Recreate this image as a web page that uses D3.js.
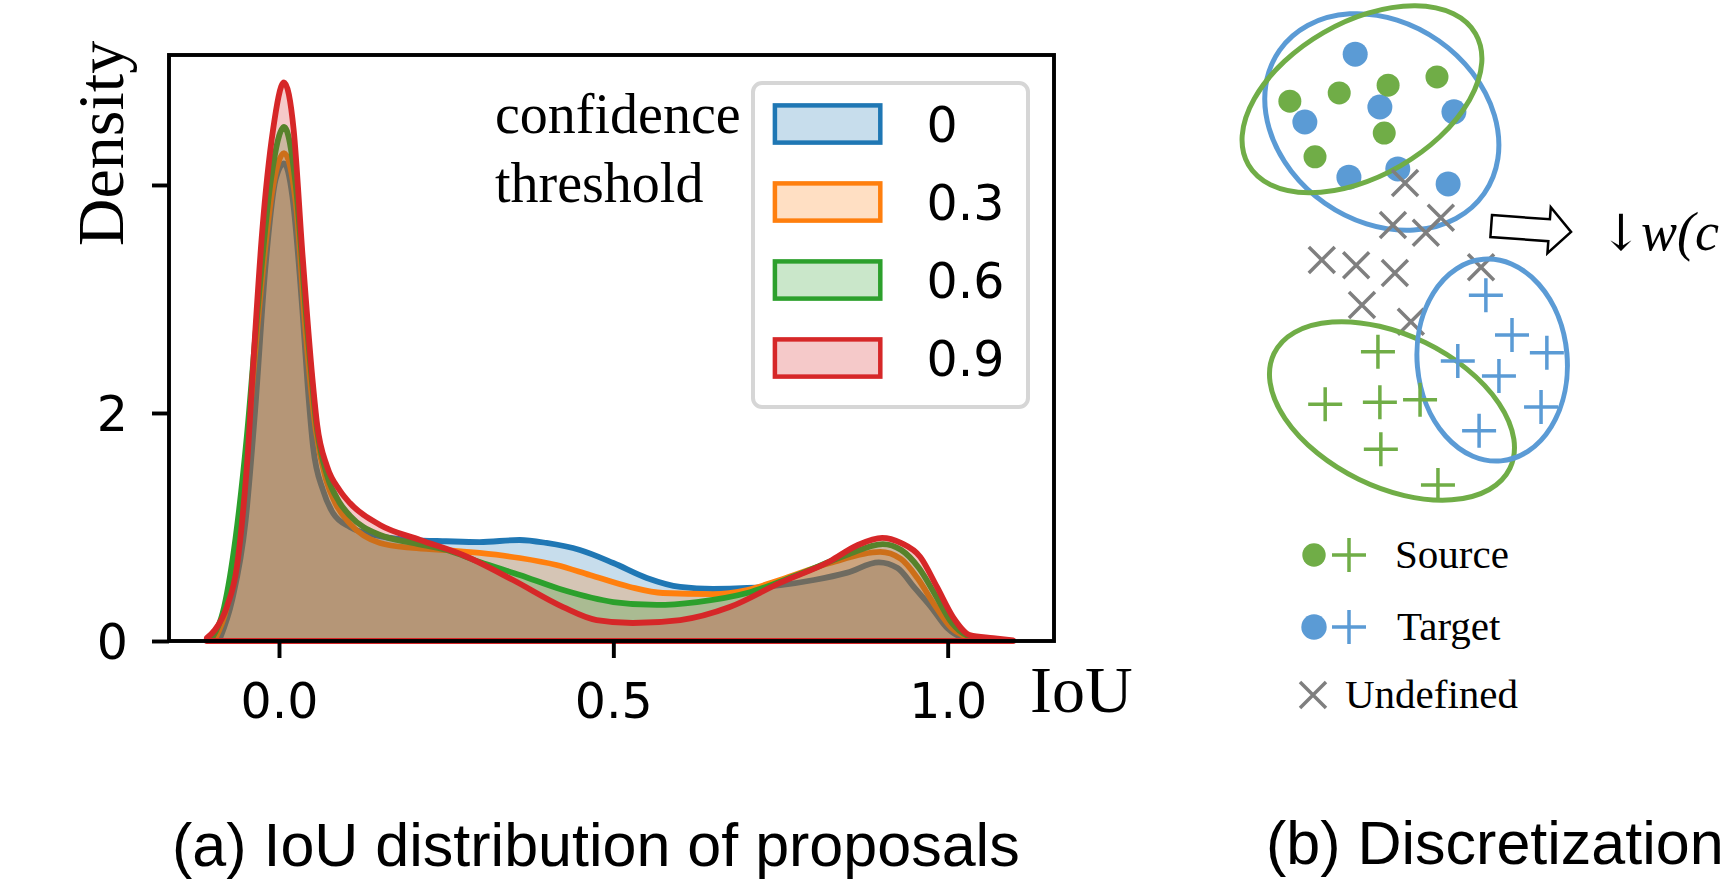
<!DOCTYPE html>
<html>
<head>
<meta charset="utf-8">
<script src="https://cdn.jsdelivr.net/npm/d3@7"></script>
<style>
  body { margin: 0; background: #fff; }
  svg { display: block; }
</style>
</head>
<body>
<div id="chart"></div>
<script>
// ---- panel (a): IoU density per confidence threshold ----
var thresholds = ['0', '0.3', '0.6', '0.9'];
var seriesColors = ['#1f77b4', '#ff7f0e', '#2ca02c', '#d62728'];

var iou0 = [-0.088, -0.07, -0.05, -0.036, -0.02, -0.005, 0.0075, 0.02, 0.035, 0.043, 0.051, 0.066, 0.081, 0.106,
            0.151, 0.2, 0.25, 0.3, 0.36, 0.4, 0.45, 0.5, 0.55, 0.6, 0.649, 0.7, 0.75, 0.8, 0.85, 0.897,
            0.925, 0.95, 0.975, 1.0, 1.02, 1.05];
var dens0 = [0.026, 0.36, 1.05, 2.0, 3.3, 4.05, 4.19, 3.9, 2.9, 2.23, 1.7, 1.32, 1.12, 1.0,
             0.92, 0.885, 0.875, 0.868, 0.886, 0.86, 0.798, 0.684, 0.553, 0.474, 0.456, 0.465, 0.49, 0.535, 0.6, 0.69,
             0.64, 0.47, 0.3, 0.11, 0.035, 0.005];

var iou03 = [-0.095, -0.078, -0.06, -0.045, -0.03, -0.01, 0.0075, 0.025, 0.04, 0.055, 0.07, 0.085, 0.106,
             0.151, 0.2, 0.251, 0.3, 0.36, 0.415, 0.465, 0.525, 0.574, 0.649, 0.7, 0.749, 0.824, 0.899,
             0.93, 0.955, 0.98, 1.005, 1.03, 1.06];
var dens03 = [0.026, 0.3, 0.95, 1.9, 2.9, 3.95, 4.28, 3.85, 2.7, 1.85, 1.42, 1.2, 1.03,
              0.86, 0.816, 0.798, 0.772, 0.728, 0.667, 0.579, 0.474, 0.421, 0.412, 0.447, 0.535, 0.684, 0.781,
              0.72, 0.55, 0.32, 0.12, 0.035, 0.005];

var iou06 = [-0.1, -0.082, -0.065, -0.048, -0.032, -0.012, 0.0075, 0.025, 0.042, 0.057, 0.072, 0.09, 0.106,
             0.151, 0.2, 0.251, 0.3, 0.36, 0.425, 0.5, 0.565, 0.625, 0.7, 0.775, 0.849, 0.903,
             0.93, 0.957, 0.982, 1.006, 1.03, 1.065];
var dens06 = [0.026, 0.3, 0.9, 1.8, 2.9, 4.05, 4.51, 4.0, 2.75, 1.85, 1.45, 1.22, 1.1,
              0.93, 0.86, 0.798, 0.693, 0.579, 0.447, 0.342, 0.316, 0.342, 0.421, 0.579, 0.754, 0.85,
              0.8, 0.64, 0.4, 0.16, 0.045, 0.005];

var iou09 = [-0.108, -0.096, -0.078, -0.063, -0.054, -0.046, -0.04, -0.025, -0.009, 0.0075, 0.022, 0.035, 0.05,
             0.057, 0.072, 0.091, 0.106, 0.151, 0.211, 0.275, 0.35, 0.425, 0.475, 0.529, 0.6, 0.674, 0.749,
             0.824, 0.865, 0.902, 0.93, 0.959, 0.984, 1.008, 1.033, 1.068, 1.098];
var dens09 = [0.026, 0.096, 0.3, 0.65, 1.12, 1.7, 2.29, 3.6, 4.48, 4.9, 4.48, 3.4, 2.3,
              1.9, 1.53, 1.32, 1.21, 1.018, 0.886, 0.754, 0.535, 0.298, 0.184, 0.158, 0.184, 0.298, 0.509,
              0.7, 0.84, 0.904, 0.86, 0.737, 0.474, 0.21, 0.053, 0.026, 0.005];

var xTicks = [0, 0.5, 1.0];
var xTickLabels = ['0.0', '0.5', '1.0'];
var yTicks = [0, 2, 4];
var yTickLabels = ['0', '2', ''];

// ---- panel (b): discretization sketch, in diagram units (0..100) ----
var targetDots = [[23.8, 11.2], [28.9, 22.1], [13.4, 25.2], [44.2, 23.1], [22.5, 36.6], [32.6, 34.9], [43.0, 38.0]];
var sourceDots = [[10.3, 20.9], [20.5, 19.2], [30.6, 17.6], [40.7, 15.9], [29.8, 27.5], [15.5, 32.4]];
var undefinedPts = [[34.1, 37.8], [31.6, 46.5], [41.5, 45.0], [38.4, 48.1], [16.9, 53.7],
                    [24.0, 54.8], [32.0, 56.4], [49.8, 55.2], [25.2, 63.0], [35.3, 66.5]];
var targetPlus = [[50.8, 61.0], [56.2, 69.2], [63.4, 72.9], [45.0, 74.6], [53.5, 77.7], [62.2, 84.1], [49.4, 89.0]];
var sourcePlus = [[28.5, 72.7], [17.6, 83.5], [28.9, 83.1], [37.2, 82.6], [29.1, 92.8], [40.9, 100.2]];
// cluster ellipses: [cx, cy, rx, ry, angle]
var targetUpper = [29.3, 25.2, 25.8, 20.5, 35];
var sourceUpper = [25.2, 20.5, 27.1, 15.9, -30];
var sourceLower = [31.4, 84.9, 27.1, 15.7, 26];
var targetLower = [52.1, 74.4, 15.5, 20.9, -5];
var arrowFrom = [51.9, 46.7], arrowTo = [68.4, 47.9];
var legendLabels = ['Source', 'Target', 'Undefined'];

var W = 1724, H = 886;
var BLUE = '#5b9bd5', GREEN = '#70ad47', GRAY = '#7f7f7f';

var svg = d3.select('#chart').append('svg')
    .attr('width', W).attr('height', H);
svg.append('rect').attr('width', W).attr('height', H).attr('fill', '#fff');

function drawKde() {
  let box = {left: 169, right: 1054, top: 55, bottom: 641};
  let xScale = d3.scaleLinear().domain([-0.1645, 1.159]).range([box.left, box.right]);
  let yScale = d3.scaleLinear().domain([0, 5.14]).range([box.bottom, box.top]);

  let series = [[iou0, dens0], [iou03, dens03], [iou06, dens06], [iou09, dens09]];
  let area = d3.area()
      .x(d => xScale(d[0]))
      .y0(yScale(0))
      .y1(d => yScale(d[1]))
      .curve(d3.curveMonotoneX);

  // each layer: translucent face + opaque edge, later layers cover earlier edges
  for (let i = 0; i < series.length; ++i) {
    let pts = series[i][0].map((x, j) => [x, series[i][1][j]]);
    svg.append('path')
      .datum(pts)
        .attr('d', area)
        .attr('fill', seriesColors[i])
        .attr('fill-opacity', 0.25)
        .attr('stroke', seriesColors[i])
        .attr('stroke-width', 5.8)
        .attr('stroke-linejoin', 'round');
  }

  let xaxis = d3.axisBottom(xScale)
      .tickValues(xTicks)
      .tickFormat((d, i) => xTickLabels[i])
      .tickSize(17);
  let yaxis = d3.axisLeft(yScale)
      .tickValues(yTicks)
      .tickFormat((d, i) => yTickLabels[i])
      .tickSize(17);

  let gx = svg.append('g')
      .attr('transform', 'translate(0,' + box.bottom + ')')
      .call(xaxis);
  gx.select('.domain').remove();
  gx.attr('font-family', 'DejaVu Sans').attr('font-size', 49);
  gx.selectAll('line').attr('stroke', '#000').attr('stroke-width', 3.9);
  gx.selectAll('text').attr('y', 77).attr('dy', 0).attr('fill', '#000');

  let gy = svg.append('g')
      .attr('transform', 'translate(' + box.left + ',0)')
      .call(yaxis);
  gy.select('.domain').remove();
  gy.attr('font-family', 'DejaVu Sans').attr('font-size', 49);
  gy.selectAll('line').attr('stroke', '#000').attr('stroke-width', 3.9);
  gy.selectAll('text').attr('x', -41).attr('dy', '0.36em').attr('fill', '#000');

  svg.append('rect')
      .attr('x', box.left).attr('y', box.top)
      .attr('width', box.right - box.left).attr('height', box.bottom - box.top)
      .attr('fill', 'none')
      .attr('stroke', '#000')
      .attr('stroke-width', 3.9);

  svg.append('text')
      .attr('transform', 'translate(122.5,143.5) rotate(-90)')
      .attr('text-anchor', 'middle')
      .attr('font-family', 'Liberation Serif')
      .attr('font-size', 66)
      .text('Density');

  svg.append('text')
      .attr('x', 1030).attr('y', 712)
      .attr('font-family', 'Liberation Serif')
      .attr('font-size', 66)
      .text('IoU');

  // legend
  svg.append('rect')
      .attr('x', 753).attr('y', 83)
      .attr('width', 275).attr('height', 324)
      .attr('rx', 9)
      .attr('fill', '#fff')
      .attr('stroke', '#d6d6d6')
      .attr('stroke-width', 4);

  let rows = svg.append('g').selectAll('g')
      .data(thresholds)
    .enter().append('g')
      .attr('transform', (d, i) => 'translate(0,' + (124 + i * 78) + ')');
  rows.append('rect')
      .attr('x', 774.9).attr('y', -18.6)
      .attr('width', 105.4).attr('height', 37.2)
      .attr('fill', '#fff');
  rows.append('rect')
      .attr('x', 774.9).attr('y', -18.6)
      .attr('width', 105.4).attr('height', 37.2)
      .attr('fill', (d, i) => seriesColors[i])
      .attr('fill-opacity', 0.25)
      .attr('stroke', (d, i) => seriesColors[i])
      .attr('stroke-width', 4.5);
  rows.append('text')
      .attr('x', 926.5).attr('y', 17.9)
      .attr('font-family', 'DejaVu Sans')
      .attr('font-size', 49)
      .text(d => d);

  let title = svg.append('text')
      .attr('font-family', 'Liberation Serif')
      .attr('font-size', 56);
  title.append('tspan').attr('x', 495).attr('y', 133).text('confidence');
  title.append('tspan').attr('x', 495).attr('y', 202).text('threshold');

  svg.append('text')
      .attr('x', 172).attr('y', 866)
      .attr('font-family', 'Liberation Sans')
      .attr('font-size', 61)
      .text('(a) IoU distribution of proposals');
}

function drawSketch() {
  let sx = d3.scaleLinear().domain([0, 100]).range([1240, 1724]);
  let sy = d3.scaleLinear().domain([0, 100]).range([0, 484]);
  let len = d => sx(d) - sx(0);

  let g = svg.append('g');

  function ellipse(e, color) {
    g.append('ellipse')
        .attr('cx', sx(e[0])).attr('cy', sy(e[1]))
        .attr('rx', len(e[2])).attr('ry', len(e[3]))
        .attr('transform', 'rotate(' + e[4] + ',' + sx(e[0]) + ',' + sy(e[1]) + ')')
        .attr('fill', 'none')
        .attr('stroke', color)
        .attr('stroke-width', 5);
  }
  function dots(pts, color, r) {
    g.selectAll(null).data(pts).enter().append('circle')
        .attr('cx', d => sx(d[0])).attr('cy', d => sy(d[1]))
        .attr('r', r).attr('fill', color);
  }
  function plusPath(x, y, a) {
    return 'M' + (x - a) + ',' + y + 'H' + (x + a) + 'M' + x + ',' + (y - a) + 'V' + (y + a);
  }
  function crossPath(x, y, a) {
    return 'M' + (x - a) + ',' + (y - a) + 'L' + (x + a) + ',' + (y + a) +
           'M' + (x - a) + ',' + (y + a) + 'L' + (x + a) + ',' + (y - a);
  }
  function marks(pts, color, pathFn, a) {
    g.selectAll(null).data(pts).enter().append('path')
        .attr('d', d => pathFn(sx(d[0]), sy(d[1]), a))
        .attr('fill', 'none')
        .attr('stroke', color)
        .attr('stroke-width', 3.5);
  }

  ellipse(targetUpper, BLUE);
  dots(targetDots, BLUE, 12.5);
  dots(sourceDots, GREEN, 11.5);
  ellipse(sourceUpper, GREEN);
  marks(undefinedPts, GRAY, crossPath, 13);
  ellipse(sourceLower, GREEN);
  ellipse(targetLower, BLUE);
  marks(targetPlus, BLUE, plusPath, 17);
  marks(sourcePlus, GREEN, plusPath, 17);

  // hollow block arrow
  let ax = sx(arrowFrom[0]), ay = sy(arrowFrom[1]);
  let bx = sx(arrowTo[0]), by = sy(arrowTo[1]);
  let L = Math.hypot(bx - ax, by - ay);
  let ang = Math.atan2(by - ay, bx - ax) * 180 / Math.PI;
  let head = 22;
  let shape = [[0, -11], [L - head, -11], [L - head, -23], [L, 0], [L - head, 23], [L - head, 11], [0, 11]];
  g.append('polygon')
      .attr('points', shape.map(p => p.join(',')).join(' '))
      .attr('transform', 'translate(' + ax + ',' + ay + ') rotate(' + ang + ')')
      .attr('fill', '#fff')
      .attr('stroke', '#000')
      .attr('stroke-width', 2.5);

  let wt = g.append('text')
      .attr('y', 250)
      .attr('font-family', 'Liberation Serif')
      .attr('font-size', 54);
  wt.append('tspan').attr('x', 1600).attr('font-family', 'DejaVu Serif').attr('font-size', 50).text('\u2193');
  wt.append('tspan').attr('x', 1641).attr('font-style', 'italic').text('w(c');

  // sketch legend
  let rowY = [555, 627, 695];
  let legColors = [GREEN, BLUE, GRAY];
  for (let i = 0; i < 2; ++i) {
    g.append('circle').attr('cx', 1314).attr('cy', rowY[i]).attr('r', i == 0 ? 11.7 : 12.7)
        .attr('fill', legColors[i]);
    g.append('path').attr('d', plusPath(1349, rowY[i], 17))
        .attr('stroke', legColors[i]).attr('stroke-width', 3.5).attr('fill', 'none');
  }
  g.append('path').attr('d', crossPath(1313, rowY[2], 13))
      .attr('stroke', GRAY).attr('stroke-width', 3.5).attr('fill', 'none');
  let textX = [1395, 1397, 1345];
  for (let i = 0; i < 3; ++i) {
    g.append('text')
        .attr('x', textX[i]).attr('y', rowY[i] + 13)
        .attr('font-family', 'Liberation Serif')
        .attr('font-size', 41)
        .text(legendLabels[i]);
  }

  svg.append('text')
      .attr('x', 1266).attr('y', 864)
      .attr('font-family', 'Liberation Sans')
      .attr('font-size', 61)
      .text('(b) Discretization');
}

drawKde();
drawSketch();
</script>
</body>
</html>
